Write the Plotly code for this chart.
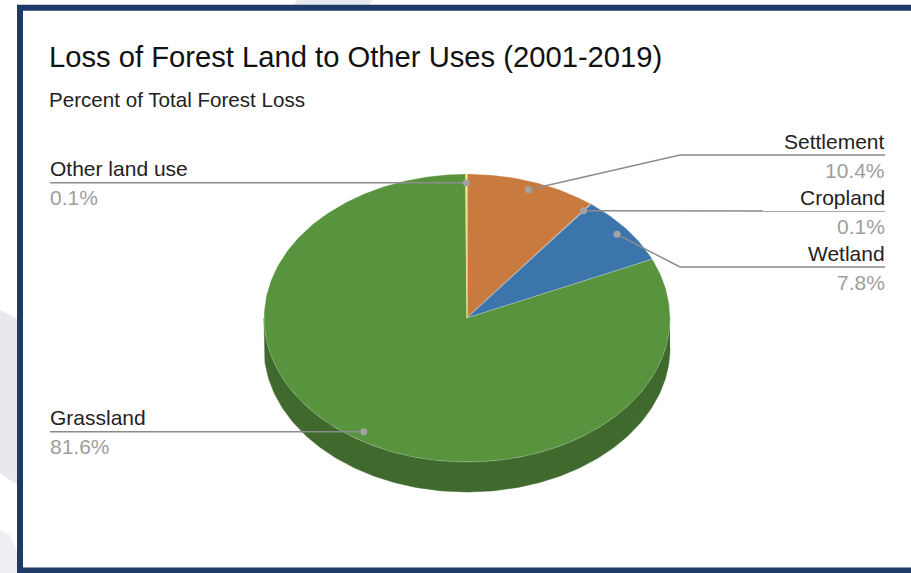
import numpy as np
import plotly.graph_objects as go

# ---------------- data ----------------
categories = ["Settlement", "Cropland", "Wetland", "Grassland", "Other land use"]
values = [10.4, 0.1, 7.8, 81.6, 0.1]
value_labels = ["10.4%", "0.1%", "7.8%", "81.6%", "0.1%"]
title_text = "Loss of Forest Land to Other Uses (2001-2019)"
subtitle_text = "Percent of Total Forest Loss"

# ---------------- style / layout ----------------
colors = ["#C97A3E", "#B4B4B4", "#3C75AB", "#58933E", "#EEE08A"]
side_colors = ["#8A5229", "#7A7A7A", "#29507A", "#406A2D", "#A89C5E"]
W, H = 911, 573
CX, CY, RX, RY, DEPTH = 467, 318, 203, 144, 30
ANCHOR_R = 0.94
ELBOW_X, RIGHT_X, LEFT_X = 680, 885, 50
RIGHT_ROWS = [155, 211, 267]
FONT = "Liberation Sans, Arial, sans-serif"
LINE_C = "#8C8C8C"
DOT_C = "#A3A3A3"

total = float(sum(values))
edges = np.concatenate([[0.0], np.cumsum(values)]) / total * 2 * np.pi


def ell(theta, r=1.0, dy=0.0):
    return CX + RX * r * np.sin(theta), CY - RY * r * np.cos(theta) + dy


fig = go.Figure()

# side (visible front half: theta in [pi/2, 3pi/2])
for i in range(len(values)):
    a = max(edges[i], np.pi / 2)
    b = min(edges[i + 1], 3 * np.pi / 2)
    if b <= a:
        continue
    t = np.linspace(a, b, 200)
    xt, yt = ell(t)
    xb, yb = ell(t[::-1], dy=DEPTH)
    fig.add_trace(go.Scatter(x=np.concatenate([xt, xb]), y=np.concatenate([yt, yb]),
                             mode="lines", fill="toself", fillcolor=side_colors[i],
                             line=dict(color=side_colors[i], width=0.5),
                             hoverinfo="skip", showlegend=False))

# top faces
for i in range(len(values)):
    n = max(int(400 * values[i] / total), 3)
    t = np.linspace(edges[i], edges[i + 1], n)
    xs, ys = ell(t)
    xs = np.concatenate([[CX], xs, [CX]])
    ys = np.concatenate([[CY], ys, [CY]])
    thin = values[i] / total < 0.01
    fig.add_trace(go.Scatter(x=xs, y=ys, mode="lines", fill="toself",
                             fillcolor=colors[i],
                             line=dict(color=colors[i] if thin else "rgba(255,255,255,0.35)",
                                       width=1.2 if thin else 0.6),
                             name=categories[i], text=f"{categories[i]}: {value_labels[i]}",
                             hoverinfo="text", showlegend=False))

# leader lines + labels
annotations = []
ri = 0
for i in range(len(values)):
    mid = (edges[i] + edges[i + 1]) / 2
    ax, ay = ell(mid, r=ANCHOR_R)
    if mid < np.pi:
        row = RIGHT_ROWS[ri]
        ri += 1
        lx = [ax, ELBOW_X, RIGHT_X]
        ly = [ay, row, row]
        tx, xanchor = RIGHT_X + 2, "right"
    else:
        row = ay
        lx = [ax, LEFT_X]
        ly = [ay, ay]
        tx, xanchor = LEFT_X - 2, "left"
    fig.add_trace(go.Scatter(x=lx, y=ly, mode="lines", line=dict(color=LINE_C, width=1.5),
                             hoverinfo="skip", showlegend=False))
    fig.add_trace(go.Scatter(x=[ax], y=[ay], mode="markers",
                             marker=dict(color=DOT_C, size=7),
                             hoverinfo="skip", showlegend=False))
    annotations.append(dict(x=tx, y=row - 14, text=categories[i], showarrow=False,
                            xanchor=xanchor, yanchor="middle", xref="x", yref="y",
                            font=dict(family=FONT, size=21, color="#222222")))
    annotations.append(dict(x=tx, y=row + 15, text=value_labels[i], showarrow=False,
                            xanchor=xanchor, yanchor="middle", xref="x", yref="y",
                            font=dict(family=FONT, size=21, color="#9E9E9E")))

annotations.append(dict(x=LEFT_X - 3, y=57, text=title_text, showarrow=False,
                        xanchor="left", yanchor="middle", xref="x", yref="y",
                        font=dict(family=FONT, size=29.2, color="#111111")))
annotations.append(dict(x=LEFT_X - 3, y=99, text=subtitle_text, showarrow=False,
                        xanchor="left", yanchor="middle", xref="x", yref="y",
                        font=dict(family=FONT, size=20.6, color="#222222")))

shapes = [
    # faint decorative background shapes outside the frame
    dict(type="path", path="M 300 -5 L 375 -5 L 355 30 L 280 30 Z",
         fillcolor="#E8E9EE", line=dict(width=0), layer="below", xref="x", yref="y"),
    dict(type="path", path="M -20 300 L 40 330 L 40 500 L -20 460 Z",
         fillcolor="#E8E9EE", line=dict(width=0), layer="below", xref="x", yref="y"),
    dict(type="path", path="M -20 520 L 10 535 L 30 580 L -20 580 Z",
         fillcolor="#EEEFF3", line=dict(width=0), layer="below", xref="x", yref="y"),
    # white card with navy frame
    dict(type="rect", x0=20, y0=7.75, x1=960, y1=570.5, fillcolor="white",
         line=dict(color="#1F3A66", width=6), layer="below", xref="x", yref="y"),
]

fig.update_layout(
    width=W, height=H, autosize=False,
    margin=dict(l=0, r=0, t=0, b=0),
    paper_bgcolor="white", plot_bgcolor="rgba(0,0,0,0)",
    xaxis=dict(range=[0, W], visible=False, fixedrange=True),
    yaxis=dict(range=[H, 0], visible=False, fixedrange=True),
    annotations=annotations, shapes=shapes,
    showlegend=False,
)

fig.write_html("out.html", config={"displayModeBar": False},
               post_script="document.body.style.margin='0';document.body.style.overflow='hidden';")
